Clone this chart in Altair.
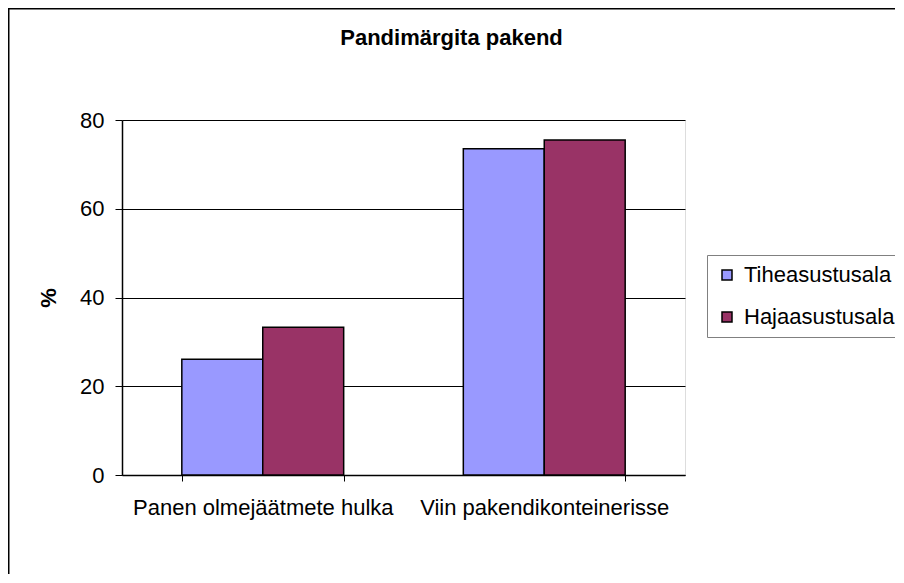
import altair as alt
import pandas as pd

categories = ["Panen olmejäätmete hulka", "Viin pakendikonteinerisse"]
series = ["Tiheasustusala", "Hajaasustusala"]
tihe_values = [26.1, 73.5]
haja_values = [33.3, 75.5]
colors = ["#9999FF", "#993366"]
y_ticks = [0, 20, 40, 60, 80]

rows = []
for i, c in enumerate(categories):
    rows.append({"category": c, "series": series[0], "value": tihe_values[i]})
    rows.append({"category": c, "series": series[1], "value": haja_values[i]})
df = pd.DataFrame(rows)

FONT = "Liberation Sans"
W, H = 563, 355
PL, PT, PR, PB = 114, 112, 210, 99

bars = alt.Chart(df).mark_bar(stroke="black", strokeWidth=1.5).encode(
    x=alt.X(
        "category:N",
        sort=categories,
        scale=alt.Scale(paddingInner=0.425, paddingOuter=0.2125),
        axis=alt.Axis(
            title=None,
            labelAngle=0,
            labelFont=FONT,
            labelFontSize=22,
            labelColor="black",
            labelLimit=0,
            labelOverlap=False,
            labelPadding=16,
            tickBand="extent",
            tickSize=6,
            tickColor="black",
            domainColor="black",
            domainWidth=1.5,
            grid=False,
        ),
    ),
    xOffset=alt.XOffset(
        "series:N", sort=series, scale=alt.Scale(paddingInner=0, paddingOuter=0)
    ),
    y=alt.Y(
        "value:Q",
        scale=alt.Scale(domain=[0, 80], nice=False),
        axis=alt.Axis(
            title="%",
            titleFont=FONT,
            titleFontSize=22,
            titleFontWeight="bold",
            titleColor="black",
            titleAngle=-90,
            titleX=-74,
            titleY=H / 2,
            titleAlign="center",
            titleBaseline="middle",
            values=y_ticks,
            labelFont=FONT,
            labelFontSize=22,
            labelColor="black",
            labelPadding=11,
            tickSize=7,
            tickColor="black",
            domainColor="black",
            domainWidth=1.5,
            grid=True,
            gridColor="black",
            gridWidth=1,
        ),
    ),
    color=alt.Color(
        "series:N",
        sort=series,
        scale=alt.Scale(domain=series, range=colors),
        legend=alt.Legend(
            title=None,
            orient="none",
            legendX=585,
            legendY=135,
            direction="vertical",
            symbolType="square",
            symbolSize=100,
            symbolStrokeColor="black",
            symbolStrokeWidth=1.5,
            symbolOpacity=1,
            labelFont=FONT,
            labelFontSize=22,
            labelColor="black",
            labelLimit=400,
            labelOffset=6,
            rowPadding=20,
            padding=9,
            strokeColor="#808080",
            fillColor="white",
        ),
    ),
)

border = alt.Chart(pd.DataFrame({"a": [0]})).mark_rect(
    fill="transparent", stroke="black", strokeWidth=1.5, clip=False
).encode(
    x=alt.value(-PL + 0.75),
    x2=alt.value(W + PR + 20),
    y=alt.value(-PT + 0.75),
    y2=alt.value(H + PB + 20),
)

chart = alt.layer(border, bars).properties(
    width=W,
    height=H,
    padding={"left": PL, "top": PT, "right": PR, "bottom": PB},
    autosize=alt.AutoSizeParams(type="none"),
    title=alt.TitleParams(
        "Pandimärgita pakend",
        font=FONT,
        fontSize=22,
        fontWeight="bold",
        color="black",
        anchor="middle",
        frame="group",
        dx=48,
        dy=46,
    ),
).configure_view(
    stroke="#808080", strokeWidth=1.5
).configure_legend(
    strokeWidth=1.5
).configure(background="white")

chart.save("out.html", embed_options={"renderer": "svg", "actions": False})
